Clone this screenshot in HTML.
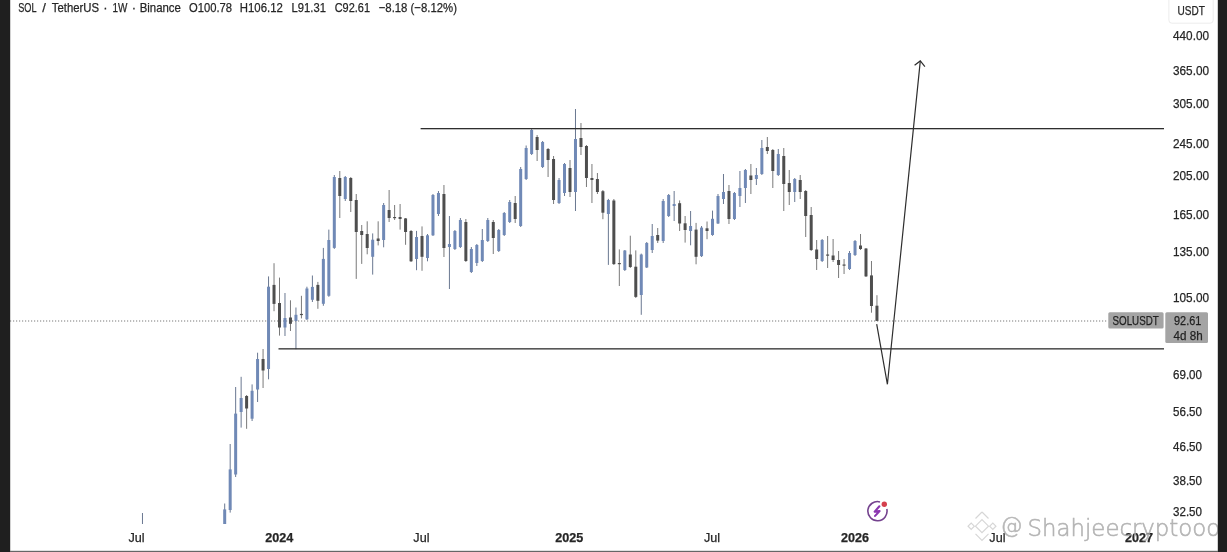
<!DOCTYPE html>
<html>
<head>
<meta charset="utf-8">
<style>
html,body{margin:0;padding:0;background:#fff;}
body{width:1227px;height:552px;overflow:hidden;position:relative;}
svg{position:absolute;left:0;top:0;display:block;}
.t{font-family:"Liberation Sans",Arial,sans-serif;fill:#262626;stroke:#262626;stroke-width:0.25;}
.wm{font-family:"DejaVu Sans","Liberation Sans",sans-serif;font-weight:200;}
</style>
</head>
<body>
<svg width="1227" height="552" viewBox="0 0 1227 552">
  <defs>
    <clipPath id="pane"><rect x="10" y="0" width="1155" height="524"/></clipPath>
  </defs>
  <rect x="0" y="0" width="1227" height="552" fill="#ffffff"/>

  <!-- current price dotted line -->
  <line x1="10" y1="321" x2="1108" y2="321" stroke="#a6a6a6" stroke-width="1.4" stroke-dasharray="1.2 1.8"/>

  <g clip-path="url(#pane)">
<rect x="141.97" y="513.0" width="1" height="11.0" fill="#6a7891"/>
<rect x="140.97" y="524.0" width="3" height="1.2" fill="#7089b6"/>
<rect x="224.19" y="503.5" width="1" height="20.5" fill="#6a7891"/>
<rect x="223.19" y="509.4" width="3" height="14.6" fill="#7089b6"/>
<rect x="229.67" y="444.0" width="1" height="68.6" fill="#6a7891"/>
<rect x="228.67" y="469.4" width="3" height="40.6" fill="#7089b6"/>
<rect x="235.15" y="387.0" width="1" height="90.0" fill="#6a7891"/>
<rect x="234.15" y="413.6" width="3" height="60.9" fill="#7089b6"/>
<rect x="240.63" y="376.8" width="1" height="50.8" fill="#6a7891"/>
<rect x="239.63" y="398.0" width="3" height="14.0" fill="#7089b6"/>
<rect x="246.11" y="395.0" width="1" height="33.8" fill="#7a7a7a"/>
<rect x="245.11" y="396.0" width="3" height="12.5" fill="#4e4e4e"/>
<rect x="251.59" y="384.4" width="1" height="36.6" fill="#6a7891"/>
<rect x="250.59" y="390.8" width="3" height="27.9" fill="#7089b6"/>
<rect x="257.08" y="352.7" width="1" height="49.3" fill="#6a7891"/>
<rect x="256.08" y="359.0" width="3" height="30.5" fill="#7089b6"/>
<rect x="262.56" y="349.0" width="1" height="39.0" fill="#7a7a7a"/>
<rect x="261.56" y="359.0" width="3" height="11.5" fill="#4e4e4e"/>
<rect x="268.04" y="276.4" width="1" height="102.9" fill="#6a7891"/>
<rect x="267.04" y="286.7" width="3" height="82.3" fill="#7089b6"/>
<rect x="273.52" y="263.2" width="1" height="48.0" fill="#7a7a7a"/>
<rect x="272.52" y="284.9" width="3" height="19.0" fill="#4e4e4e"/>
<rect x="279.00" y="277.6" width="1" height="58.0" fill="#7a7a7a"/>
<rect x="278.00" y="303.0" width="3" height="24.5" fill="#4e4e4e"/>
<rect x="284.48" y="293.0" width="1" height="43.0" fill="#6a7891"/>
<rect x="283.48" y="318.0" width="3" height="9.5" fill="#7089b6"/>
<rect x="289.96" y="300.3" width="1" height="30.7" fill="#7a7a7a"/>
<rect x="288.96" y="317.5" width="3" height="6.3" fill="#4e4e4e"/>
<rect x="295.44" y="307.5" width="1" height="41.7" fill="#6a7891"/>
<rect x="294.44" y="314.8" width="3" height="6.2" fill="#7089b6"/>
<rect x="300.92" y="295.8" width="1" height="22.6" fill="#7a7a7a"/>
<rect x="299.92" y="313.9" width="3" height="1.2" fill="#4e4e4e"/>
<rect x="306.41" y="286.7" width="1" height="33.3" fill="#6a7891"/>
<rect x="305.41" y="288.5" width="3" height="30.8" fill="#7089b6"/>
<rect x="311.89" y="275.5" width="1" height="26.5" fill="#6a7891"/>
<rect x="310.89" y="286.9" width="3" height="12.9" fill="#7089b6"/>
<rect x="317.37" y="281.9" width="1" height="26.9" fill="#7a7a7a"/>
<rect x="316.37" y="284.9" width="3" height="15.9" fill="#4e4e4e"/>
<rect x="322.85" y="247.9" width="1" height="57.9" fill="#6a7891"/>
<rect x="321.85" y="258.9" width="3" height="44.9" fill="#7089b6"/>
<rect x="328.33" y="229.6" width="1" height="67.2" fill="#6a7891"/>
<rect x="327.33" y="240.0" width="3" height="55.8" fill="#7089b6"/>
<rect x="333.81" y="175.0" width="1" height="73.9" fill="#6a7891"/>
<rect x="332.81" y="177.0" width="3" height="70.9" fill="#7089b6"/>
<rect x="339.29" y="171.0" width="1" height="47.0" fill="#7a7a7a"/>
<rect x="338.29" y="178.0" width="3" height="18.0" fill="#4e4e4e"/>
<rect x="344.77" y="176.0" width="1" height="25.0" fill="#6a7891"/>
<rect x="343.77" y="177.0" width="3" height="22.0" fill="#7089b6"/>
<rect x="350.26" y="177.0" width="1" height="35.0" fill="#7a7a7a"/>
<rect x="349.26" y="178.0" width="3" height="23.0" fill="#4e4e4e"/>
<rect x="355.74" y="194.0" width="1" height="84.9" fill="#7a7a7a"/>
<rect x="354.74" y="200.0" width="3" height="32.0" fill="#4e4e4e"/>
<rect x="361.22" y="225.0" width="1" height="38.9" fill="#7a7a7a"/>
<rect x="360.22" y="231.0" width="3" height="4.0" fill="#4e4e4e"/>
<rect x="366.70" y="221.3" width="1" height="33.0" fill="#7a7a7a"/>
<rect x="365.70" y="234.0" width="3" height="14.0" fill="#4e4e4e"/>
<rect x="372.18" y="233.4" width="1" height="41.2" fill="#6a7891"/>
<rect x="371.18" y="239.7" width="3" height="17.1" fill="#7089b6"/>
<rect x="377.66" y="221.3" width="1" height="24.1" fill="#7a7a7a"/>
<rect x="376.66" y="238.5" width="3" height="2.5" fill="#4e4e4e"/>
<rect x="383.14" y="203.0" width="1" height="44.3" fill="#6a7891"/>
<rect x="382.14" y="205.0" width="3" height="35.0" fill="#7089b6"/>
<rect x="388.62" y="190.0" width="1" height="32.0" fill="#7a7a7a"/>
<rect x="387.62" y="210.0" width="3" height="8.0" fill="#4e4e4e"/>
<rect x="394.11" y="205.0" width="1" height="15.0" fill="#7a7a7a"/>
<rect x="393.11" y="217.0" width="3" height="1.2" fill="#4e4e4e"/>
<rect x="399.59" y="204.0" width="1" height="25.6" fill="#7a7a7a"/>
<rect x="398.59" y="217.0" width="3" height="2.0" fill="#4e4e4e"/>
<rect x="405.07" y="218.0" width="1" height="26.8" fill="#7a7a7a"/>
<rect x="404.07" y="218.4" width="3" height="13.6" fill="#4e4e4e"/>
<rect x="410.55" y="230.0" width="1" height="32.0" fill="#7a7a7a"/>
<rect x="409.55" y="231.0" width="3" height="30.3" fill="#4e4e4e"/>
<rect x="416.03" y="230.9" width="1" height="39.3" fill="#6a7891"/>
<rect x="415.03" y="237.0" width="3" height="22.0" fill="#7089b6"/>
<rect x="421.51" y="226.4" width="1" height="44.4" fill="#7a7a7a"/>
<rect x="420.51" y="236.0" width="3" height="20.8" fill="#4e4e4e"/>
<rect x="426.99" y="234.0" width="1" height="27.3" fill="#6a7891"/>
<rect x="425.99" y="235.3" width="3" height="22.7" fill="#7089b6"/>
<rect x="432.47" y="194.0" width="1" height="42.0" fill="#6a7891"/>
<rect x="431.47" y="195.0" width="3" height="40.3" fill="#7089b6"/>
<rect x="437.95" y="191.0" width="1" height="25.0" fill="#6a7891"/>
<rect x="436.95" y="193.0" width="3" height="21.0" fill="#7089b6"/>
<rect x="443.44" y="185.0" width="1" height="72.0" fill="#7a7a7a"/>
<rect x="442.44" y="194.0" width="3" height="54.0" fill="#4e4e4e"/>
<rect x="448.92" y="216.0" width="1" height="73.0" fill="#6a7891"/>
<rect x="447.92" y="244.0" width="3" height="3.0" fill="#7089b6"/>
<rect x="454.40" y="230.0" width="1" height="20.0" fill="#6a7891"/>
<rect x="453.40" y="231.0" width="3" height="18.0" fill="#7089b6"/>
<rect x="459.88" y="218.0" width="1" height="30.0" fill="#6a7891"/>
<rect x="458.88" y="220.0" width="3" height="27.0" fill="#7089b6"/>
<rect x="465.36" y="219.0" width="1" height="43.0" fill="#7a7a7a"/>
<rect x="464.36" y="222.0" width="3" height="39.0" fill="#4e4e4e"/>
<rect x="470.84" y="247.0" width="1" height="26.0" fill="#6a7891"/>
<rect x="469.84" y="249.0" width="3" height="23.0" fill="#7089b6"/>
<rect x="476.32" y="244.0" width="1" height="22.0" fill="#6a7891"/>
<rect x="475.32" y="245.0" width="3" height="18.0" fill="#7089b6"/>
<rect x="481.80" y="229.0" width="1" height="33.0" fill="#6a7891"/>
<rect x="480.80" y="240.0" width="3" height="21.0" fill="#7089b6"/>
<rect x="487.29" y="218.0" width="1" height="24.0" fill="#6a7891"/>
<rect x="486.29" y="220.0" width="3" height="21.0" fill="#7089b6"/>
<rect x="492.77" y="220.0" width="1" height="34.0" fill="#7a7a7a"/>
<rect x="491.77" y="222.0" width="3" height="16.0" fill="#4e4e4e"/>
<rect x="498.25" y="229.0" width="1" height="23.0" fill="#6a7891"/>
<rect x="497.25" y="230.0" width="3" height="21.0" fill="#7089b6"/>
<rect x="503.73" y="212.0" width="1" height="24.0" fill="#6a7891"/>
<rect x="502.73" y="213.0" width="3" height="22.0" fill="#7089b6"/>
<rect x="509.21" y="200.0" width="1" height="23.0" fill="#6a7891"/>
<rect x="508.21" y="202.0" width="3" height="20.0" fill="#7089b6"/>
<rect x="514.69" y="196.0" width="1" height="27.0" fill="#7a7a7a"/>
<rect x="513.69" y="203.0" width="3" height="16.0" fill="#4e4e4e"/>
<rect x="520.17" y="167.0" width="1" height="60.0" fill="#6a7891"/>
<rect x="519.17" y="169.0" width="3" height="57.0" fill="#7089b6"/>
<rect x="525.65" y="145.5" width="1" height="34.5" fill="#6a7891"/>
<rect x="524.65" y="148.0" width="3" height="31.0" fill="#7089b6"/>
<rect x="531.14" y="128.0" width="1" height="27.0" fill="#6a7891"/>
<rect x="530.14" y="130.0" width="3" height="24.0" fill="#7089b6"/>
<rect x="536.62" y="135.0" width="1" height="26.0" fill="#7a7a7a"/>
<rect x="535.62" y="137.0" width="3" height="13.0" fill="#4e4e4e"/>
<rect x="542.10" y="141.0" width="1" height="27.0" fill="#6a7891"/>
<rect x="541.10" y="142.0" width="3" height="25.0" fill="#7089b6"/>
<rect x="547.58" y="148.0" width="1" height="29.0" fill="#7a7a7a"/>
<rect x="546.58" y="149.0" width="3" height="11.0" fill="#4e4e4e"/>
<rect x="553.06" y="156.0" width="1" height="48.0" fill="#7a7a7a"/>
<rect x="552.06" y="159.0" width="3" height="41.0" fill="#4e4e4e"/>
<rect x="558.54" y="178.0" width="1" height="26.0" fill="#6a7891"/>
<rect x="557.54" y="180.0" width="3" height="23.0" fill="#7089b6"/>
<rect x="564.02" y="163.0" width="1" height="33.0" fill="#6a7891"/>
<rect x="563.02" y="164.0" width="3" height="29.0" fill="#7089b6"/>
<rect x="569.50" y="160.0" width="1" height="37.0" fill="#7a7a7a"/>
<rect x="568.50" y="168.0" width="3" height="24.0" fill="#4e4e4e"/>
<rect x="574.98" y="109.0" width="1" height="102.0" fill="#6a7891"/>
<rect x="573.98" y="139.0" width="3" height="53.0" fill="#7089b6"/>
<rect x="580.47" y="123.0" width="1" height="32.0" fill="#7a7a7a"/>
<rect x="579.47" y="138.0" width="3" height="9.0" fill="#4e4e4e"/>
<rect x="585.95" y="145.0" width="1" height="42.0" fill="#7a7a7a"/>
<rect x="584.95" y="146.0" width="3" height="32.0" fill="#4e4e4e"/>
<rect x="591.43" y="164.0" width="1" height="39.0" fill="#7a7a7a"/>
<rect x="590.43" y="178.0" width="3" height="2.0" fill="#4e4e4e"/>
<rect x="596.91" y="173.0" width="1" height="21.0" fill="#7a7a7a"/>
<rect x="595.91" y="179.0" width="3" height="13.0" fill="#4e4e4e"/>
<rect x="602.39" y="190.0" width="1" height="29.2" fill="#7a7a7a"/>
<rect x="601.39" y="191.2" width="3" height="21.5" fill="#4e4e4e"/>
<rect x="607.87" y="198.9" width="1" height="66.0" fill="#6a7891"/>
<rect x="606.87" y="200.0" width="3" height="14.0" fill="#7089b6"/>
<rect x="613.35" y="199.0" width="1" height="66.0" fill="#7a7a7a"/>
<rect x="612.35" y="200.5" width="3" height="63.6" fill="#4e4e4e"/>
<rect x="618.83" y="249.4" width="1" height="36.6" fill="#7a7a7a"/>
<rect x="617.83" y="263.0" width="3" height="1.2" fill="#4e4e4e"/>
<rect x="624.32" y="250.0" width="1" height="21.0" fill="#6a7891"/>
<rect x="623.32" y="250.5" width="3" height="19.5" fill="#7089b6"/>
<rect x="629.80" y="235.7" width="1" height="32.3" fill="#7a7a7a"/>
<rect x="628.80" y="254.5" width="3" height="12.5" fill="#4e4e4e"/>
<rect x="635.28" y="250.4" width="1" height="47.6" fill="#7a7a7a"/>
<rect x="634.28" y="266.7" width="3" height="30.2" fill="#4e4e4e"/>
<rect x="640.76" y="253.6" width="1" height="61.2" fill="#6a7891"/>
<rect x="639.76" y="254.5" width="3" height="40.5" fill="#7089b6"/>
<rect x="646.24" y="242.0" width="1" height="26.0" fill="#6a7891"/>
<rect x="645.24" y="243.0" width="3" height="24.5" fill="#7089b6"/>
<rect x="651.72" y="224.0" width="1" height="29.0" fill="#6a7891"/>
<rect x="650.72" y="236.0" width="3" height="14.0" fill="#7089b6"/>
<rect x="657.20" y="228.0" width="1" height="15.0" fill="#7a7a7a"/>
<rect x="656.20" y="235.0" width="3" height="5.6" fill="#4e4e4e"/>
<rect x="662.68" y="199.0" width="1" height="44.0" fill="#6a7891"/>
<rect x="661.68" y="201.0" width="3" height="40.0" fill="#7089b6"/>
<rect x="668.17" y="194.0" width="1" height="23.0" fill="#6a7891"/>
<rect x="667.17" y="195.0" width="3" height="21.0" fill="#7089b6"/>
<rect x="673.65" y="191.0" width="1" height="30.0" fill="#6a7891"/>
<rect x="672.65" y="204.0" width="3" height="2.0" fill="#7089b6"/>
<rect x="679.13" y="200.4" width="1" height="30.6" fill="#7a7a7a"/>
<rect x="678.13" y="203.2" width="3" height="20.3" fill="#4e4e4e"/>
<rect x="684.61" y="216.0" width="1" height="26.6" fill="#7a7a7a"/>
<rect x="683.61" y="223.3" width="3" height="6.7" fill="#4e4e4e"/>
<rect x="690.09" y="211.0" width="1" height="34.3" fill="#6a7891"/>
<rect x="689.09" y="226.0" width="3" height="5.0" fill="#7089b6"/>
<rect x="695.57" y="222.9" width="1" height="41.4" fill="#7a7a7a"/>
<rect x="694.57" y="229.6" width="3" height="27.2" fill="#4e4e4e"/>
<rect x="701.05" y="226.0" width="1" height="31.0" fill="#6a7891"/>
<rect x="700.05" y="227.6" width="3" height="28.5" fill="#7089b6"/>
<rect x="706.53" y="221.5" width="1" height="17.7" fill="#7a7a7a"/>
<rect x="705.53" y="228.3" width="3" height="2.7" fill="#4e4e4e"/>
<rect x="712.01" y="210.6" width="1" height="25.2" fill="#6a7891"/>
<rect x="711.01" y="218.8" width="3" height="16.2" fill="#7089b6"/>
<rect x="717.50" y="194.0" width="1" height="30.0" fill="#6a7891"/>
<rect x="716.50" y="196.0" width="3" height="27.5" fill="#7089b6"/>
<rect x="722.98" y="174.0" width="1" height="30.0" fill="#6a7891"/>
<rect x="721.98" y="192.0" width="3" height="7.0" fill="#7089b6"/>
<rect x="728.46" y="185.0" width="1" height="39.0" fill="#7a7a7a"/>
<rect x="727.46" y="191.0" width="3" height="28.0" fill="#4e4e4e"/>
<rect x="733.94" y="192.0" width="1" height="28.0" fill="#6a7891"/>
<rect x="732.94" y="193.0" width="3" height="26.0" fill="#7089b6"/>
<rect x="739.42" y="171.0" width="1" height="36.0" fill="#6a7891"/>
<rect x="738.42" y="188.0" width="3" height="8.0" fill="#7089b6"/>
<rect x="744.90" y="169.0" width="1" height="34.0" fill="#6a7891"/>
<rect x="743.90" y="170.0" width="3" height="18.0" fill="#7089b6"/>
<rect x="750.38" y="164.0" width="1" height="30.0" fill="#7a7a7a"/>
<rect x="749.38" y="175.5" width="3" height="4.5" fill="#4e4e4e"/>
<rect x="755.86" y="168.0" width="1" height="17.0" fill="#6a7891"/>
<rect x="754.86" y="175.0" width="3" height="4.0" fill="#7089b6"/>
<rect x="761.35" y="140.0" width="1" height="35.0" fill="#6a7891"/>
<rect x="760.35" y="148.0" width="3" height="26.0" fill="#7089b6"/>
<rect x="766.83" y="137.0" width="1" height="17.0" fill="#7a7a7a"/>
<rect x="765.83" y="147.0" width="3" height="4.0" fill="#4e4e4e"/>
<rect x="772.31" y="149.0" width="1" height="39.0" fill="#7a7a7a"/>
<rect x="771.31" y="150.0" width="3" height="21.0" fill="#4e4e4e"/>
<rect x="777.79" y="149.0" width="1" height="27.0" fill="#6a7891"/>
<rect x="776.79" y="154.0" width="3" height="21.0" fill="#7089b6"/>
<rect x="783.27" y="148.0" width="1" height="63.0" fill="#7a7a7a"/>
<rect x="782.27" y="156.0" width="3" height="28.0" fill="#4e4e4e"/>
<rect x="788.75" y="170.0" width="1" height="35.0" fill="#7a7a7a"/>
<rect x="787.75" y="183.0" width="3" height="9.0" fill="#4e4e4e"/>
<rect x="794.23" y="178.0" width="1" height="24.0" fill="#6a7891"/>
<rect x="793.23" y="179.0" width="3" height="13.0" fill="#7089b6"/>
<rect x="799.71" y="175.0" width="1" height="24.0" fill="#7a7a7a"/>
<rect x="798.71" y="180.0" width="3" height="12.0" fill="#4e4e4e"/>
<rect x="805.20" y="190.0" width="1" height="47.0" fill="#7a7a7a"/>
<rect x="804.20" y="191.0" width="3" height="25.0" fill="#4e4e4e"/>
<rect x="810.68" y="207.0" width="1" height="44.0" fill="#7a7a7a"/>
<rect x="809.68" y="215.0" width="3" height="35.0" fill="#4e4e4e"/>
<rect x="816.16" y="240.0" width="1" height="30.0" fill="#7a7a7a"/>
<rect x="815.16" y="249.5" width="3" height="9.5" fill="#4e4e4e"/>
<rect x="821.64" y="239.0" width="1" height="23.0" fill="#6a7891"/>
<rect x="820.64" y="240.0" width="3" height="21.0" fill="#7089b6"/>
<rect x="827.12" y="236.0" width="1" height="32.0" fill="#7a7a7a"/>
<rect x="826.12" y="254.5" width="3" height="1.2" fill="#4e4e4e"/>
<rect x="832.60" y="239.0" width="1" height="23.0" fill="#7a7a7a"/>
<rect x="831.60" y="255.5" width="3" height="4.5" fill="#4e4e4e"/>
<rect x="838.08" y="251.0" width="1" height="27.0" fill="#7a7a7a"/>
<rect x="837.08" y="260.0" width="3" height="5.0" fill="#4e4e4e"/>
<rect x="843.56" y="259.0" width="1" height="15.0" fill="#7a7a7a"/>
<rect x="842.56" y="264.5" width="3" height="1.2" fill="#4e4e4e"/>
<rect x="849.04" y="251.0" width="1" height="19.0" fill="#6a7891"/>
<rect x="848.04" y="253.0" width="3" height="16.0" fill="#7089b6"/>
<rect x="854.53" y="240.0" width="1" height="16.0" fill="#6a7891"/>
<rect x="853.53" y="241.0" width="3" height="14.0" fill="#7089b6"/>
<rect x="860.01" y="234.0" width="1" height="16.0" fill="#7a7a7a"/>
<rect x="859.01" y="245.5" width="3" height="3.5" fill="#4e4e4e"/>
<rect x="865.49" y="248.0" width="1" height="29.0" fill="#7a7a7a"/>
<rect x="864.49" y="248.5" width="3" height="27.9" fill="#4e4e4e"/>
<rect x="870.97" y="261.0" width="1" height="51.7" fill="#7a7a7a"/>
<rect x="869.97" y="275.4" width="3" height="30.6" fill="#4e4e4e"/>
<rect x="876.45" y="295.2" width="1" height="25.8" fill="#7a7a7a"/>
<rect x="875.45" y="305.7" width="3" height="15.2" fill="#4e4e4e"/>
  </g>

  <!-- horizontal levels -->
  <rect x="420.6" y="128" width="743.4" height="1.3" fill="#2e2e2e"/>
  <rect x="278.5" y="348.2" width="885.5" height="1.3" fill="#2e2e2e"/>

  <!-- projection path -->
  <polyline points="876.7,324.1 887.4,384.3 920.3,60.9" fill="none" stroke="#2e2e2e" stroke-width="1.2" stroke-linejoin="miter"/>
  <polyline points="914.6,65.2 920.3,60.9 924.9,66.6" fill="none" stroke="#2e2e2e" stroke-width="1.2"/>

  <!-- header -->
  <g class="t" font-size="13">
    <text x="18.2" y="11.8" textLength="18.3" lengthAdjust="spacingAndGlyphs">SOL</text>
    <text x="42.3" y="11.8">/</text>
    <text x="51.8" y="11.8" textLength="47.2" lengthAdjust="spacingAndGlyphs">TetherUS</text>
    <text x="103.3" y="11.8">·</text>
    <text x="112.6" y="11.8" textLength="14.9" lengthAdjust="spacingAndGlyphs">1W</text>
    <text x="131.8" y="11.8">·</text>
    <text x="139.7" y="11.8" textLength="41.2" lengthAdjust="spacingAndGlyphs">Binance</text>
  </g>
  <text class="t" x="189" y="11.8" font-size="13" textLength="43" lengthAdjust="spacingAndGlyphs">O100.78</text>
  <text class="t" x="239.8" y="11.8" font-size="13" textLength="43" lengthAdjust="spacingAndGlyphs">H106.12</text>
  <text class="t" x="291.6" y="11.8" font-size="13" textLength="34.3" lengthAdjust="spacingAndGlyphs">L91.31</text>
  <text class="t" x="334.7" y="11.8" font-size="13" textLength="35.3" lengthAdjust="spacingAndGlyphs">C92.61</text>
  <text class="t" x="378.7" y="11.8" font-size="13" textLength="78.3" lengthAdjust="spacingAndGlyphs">−8.18 (−8.12%)</text>

  <!-- currency button -->
  <rect x="1168.9" y="-3" width="44.3" height="26.2" rx="3" fill="#fff" stroke="#ececec" stroke-width="1"/>
  <text class="t" x="1177.6" y="15.2" font-size="12.3" textLength="27.3" lengthAdjust="spacingAndGlyphs">USDT</text>

  <!-- price scale labels -->
  <g class="t" font-size="12.4">
    <text x="1173" y="40.1" textLength="36" lengthAdjust="spacingAndGlyphs">440.00</text>
    <text x="1173" y="74.7" textLength="36" lengthAdjust="spacingAndGlyphs">365.00</text>
    <text x="1173" y="108.4" textLength="36" lengthAdjust="spacingAndGlyphs">305.00</text>
    <text x="1173" y="147.5" textLength="36" lengthAdjust="spacingAndGlyphs">245.00</text>
    <text x="1173" y="179.6" textLength="36" lengthAdjust="spacingAndGlyphs">205.00</text>
    <text x="1173" y="219.1" textLength="36" lengthAdjust="spacingAndGlyphs">165.00</text>
    <text x="1173" y="256.0" textLength="36" lengthAdjust="spacingAndGlyphs">135.00</text>
    <text x="1173" y="302.3" textLength="36" lengthAdjust="spacingAndGlyphs">105.00</text>
    <text x="1173" y="378.8" textLength="29" lengthAdjust="spacingAndGlyphs">69.00</text>
    <text x="1173" y="415.9" textLength="29" lengthAdjust="spacingAndGlyphs">56.50</text>
    <text x="1173" y="451.1" textLength="29" lengthAdjust="spacingAndGlyphs">46.50</text>
    <text x="1173" y="485.3" textLength="29" lengthAdjust="spacingAndGlyphs">38.50</text>
    <text x="1173" y="515.7" textLength="29" lengthAdjust="spacingAndGlyphs">32.50</text>
  </g>

  <!-- last price labels -->
  <rect x="1108.3" y="312.3" width="55.3" height="16.3" rx="1.5" fill="#a4a4a4"/>
  <rect x="1165.3" y="312.3" width="42.7" height="30.7" rx="1.5" fill="#a4a4a4"/>
  <text class="t" x="1112.5" y="325.4" font-size="12" textLength="46.2" lengthAdjust="spacingAndGlyphs" style="fill:#1e1e1e">SOLUSDT</text>
  <text class="t" x="1174" y="325.4" font-size="12" textLength="27.3" lengthAdjust="spacingAndGlyphs" style="fill:#1e1e1e">92.61</text>
  <text class="t" x="1173.5" y="340.2" font-size="12" textLength="29.1" lengthAdjust="spacingAndGlyphs" style="fill:#1e1e1e">4d 8h</text>

  <!-- time axis -->
  <g class="t" font-size="12.6" text-anchor="middle">
    <text x="136.6" y="541.9">Jul</text>
    <text x="279.2" y="541.9" font-weight="bold">2024</text>
    <text x="421.4" y="541.9">Jul</text>
    <text x="569.2" y="541.9" font-weight="bold">2025</text>
    <text x="712" y="541.9">Jul</text>
    <text x="854.9" y="541.9" font-weight="bold">2026</text>
    <text x="997.4" y="541.9">Jul</text>
    <text x="1139" y="541.9" font-weight="bold">2027</text>
  </g>

  <!-- lightning icon -->
  <g transform="translate(877.4 511.2)">
    <path d="M 2.6 -9.3 A 9.6 9.6 0 1 0 9.4 -2.2" fill="none" stroke="#74428e" stroke-width="1.6"/>
    <path d="M 2.0 -4.9 L -2.7 0.4 L 2.2 -0.1 L -2.3 4.7" fill="none" stroke="#8b36b0" stroke-width="2.1" stroke-linejoin="round" stroke-linecap="round"/>
    <circle cx="6.9" cy="-7.0" r="2.7" fill="#d5404e"/>
  </g>

  <!-- watermark -->
  <g opacity="0.9">
    <g transform="translate(982 526.2)" fill="none" stroke="#d2d2d2" stroke-width="1.2">
      <path d="M 0 -14.2 L 6.5 -7.7 M 0 -14.2 L -6.5 -7.7"/>
      <path d="M 0 -6.5 L 6.5 0 L 0 6.5 L -6.5 0 Z"/>
      <path d="M -13.9 0 L -10.8 -3.1 L -7.7 0 L -10.8 3.1 Z"/>
      <path d="M 13.9 0 L 10.8 -3.1 L 7.7 0 L 10.8 3.1 Z"/>
      <path d="M -6.5 7.7 L 0 14.2 L 6.5 7.7"/>
    </g>
    <text class="wm" x="1000.6" y="533.3" font-size="22" fill="#b0b0b0" stroke="#b0b0b0" stroke-width="0.55">@</text>
    <text class="wm" x="1027.6" y="536" font-size="22.6" fill="#acacac" stroke="#acacac" stroke-width="0.55" textLength="192.6" lengthAdjust="spacingAndGlyphs">Shahjeecryptooo</text>
  </g>

  <!-- frame strips -->
  <rect x="0" y="0" width="10.2" height="552" fill="#1f1f1f"/>
  <rect x="1217.8" y="0" width="9.2" height="552" fill="#1f1f1f"/>
  <rect x="10" y="550.8" width="1208" height="1.2" fill="#666666"/>
</svg>
</body>
</html>
